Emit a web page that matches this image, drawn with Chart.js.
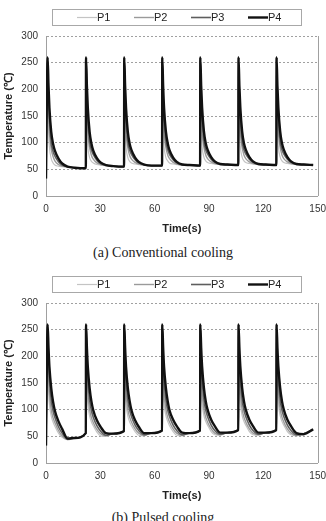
<!DOCTYPE html>
<html>
<head>
<meta charset="utf-8">
<script src="https://cdn.jsdelivr.net/npm/chart.js@4.4.1/dist/chart.umd.min.js"></script>
<style>
  html, body { margin: 0; padding: 0; background: #fff; }
  body { width: 326px; height: 521px; position: relative; overflow: hidden; }
  canvas { position: absolute; left: 0; }
  .caption {
    position: absolute; left: 0; width: 326px; text-align: center;
    font: 14px "Liberation Serif", "Times New Roman", serif; color: #222;
    line-height: 18px;
  }
</style>
</head>
<body>
<canvas id="chartA" width="326" height="240" style="top:0"></canvas>
<div class="caption" style="top:244px">(a) Conventional cooling</div>
<canvas id="chartB" width="326" height="240" style="top:267px"></canvas>
<div class="caption" style="top:509px">(b) Pulsed cooling</div>
<script>
// shared time axis (s): start, then 11 samples per cycle
const timeS = [0,
  0.9, 1.4, 1.9, 2.9, 3.9, 4.9, 6.9, 8.9, 11.9, 15.9, 22.0,
  22.1, 22.6, 23.1, 24.1, 25.1, 26.1, 28.1, 30.1, 33.1, 37.1, 43.1,
  43.2, 43.7, 44.2, 45.2, 46.2, 47.2, 49.2, 51.2, 54.2, 58.2, 64.1,
  64.2, 64.7, 65.2, 66.2, 67.2, 68.2, 70.2, 72.2, 75.2, 79.2, 85.1,
  85.2, 85.7, 86.2, 87.2, 88.2, 89.2, 91.2, 93.2, 96.2, 100.2, 106.2,
  106.3, 106.8, 107.3, 108.3, 109.3, 110.3, 112.3, 114.3, 117.3, 121.3, 127.2,
  127.3, 127.8, 128.3, 129.3, 130.3, 131.3, 133.3, 135.3, 138.3, 142.3, 147.5];

// (a) conventional cooling
const convP1 = [33,
  260, 125, 92, 70, 62, 58, 56, 55, 54, 53, 52,
  260, 125, 92, 72, 65, 62, 59, 58, 57, 56, 55,
  260, 125, 92, 72, 65, 62, 60, 59, 58, 57, 57,
  260, 125, 93, 72, 66, 62, 60, 59, 58, 58, 57,
  260, 126, 93, 73, 66, 63, 61, 60, 59, 58, 58,
  260, 126, 93, 73, 66, 63, 61, 60, 59, 58, 58,
  260, 126, 93, 73, 66, 63, 61, 60, 59, 58, 58];
const convP2 = [33,
  260, 160, 118, 88, 74, 66, 59, 56, 55, 53, 52,
  260, 160, 118, 90, 76, 69, 62, 59, 57, 56, 55,
  260, 160, 118, 90, 76, 69, 63, 60, 58, 57, 57,
  260, 160, 119, 91, 77, 70, 63, 60, 58, 58, 57,
  260, 160, 119, 91, 77, 70, 64, 61, 59, 58, 58,
  260, 160, 119, 91, 77, 70, 64, 61, 59, 58, 58,
  260, 160, 119, 91, 77, 70, 64, 61, 59, 58, 58];
const convP3 = [33,
  260, 185, 145, 100, 84, 75, 64, 58, 55, 53, 52,
  260, 185, 145, 102, 86, 78, 67, 61, 58, 56, 55,
  260, 185, 145, 102, 86, 78, 68, 62, 59, 57, 57,
  260, 185, 146, 103, 87, 78, 68, 62, 59, 58, 57,
  260, 185, 146, 103, 87, 79, 69, 63, 60, 59, 58,
  260, 185, 146, 103, 87, 79, 69, 63, 60, 59, 58,
  260, 185, 146, 103, 87, 79, 69, 63, 60, 59, 58];
const convP4 = [33,
  260, 205, 165, 120, 98, 85, 70, 61, 55, 53, 52,
  260, 205, 165, 120, 98, 85, 71, 63, 58, 56, 55,
  260, 205, 165, 120, 98, 86, 72, 64, 59, 57, 57,
  260, 205, 165, 121, 99, 86, 72, 64, 59, 58, 57,
  260, 205, 166, 121, 99, 87, 73, 65, 60, 59, 58,
  260, 205, 166, 121, 99, 87, 73, 65, 60, 59, 58,
  260, 205, 166, 121, 99, 87, 73, 65, 60, 59, 58];

// (b) pulsed cooling
const pulsP1 = [33,
  260, 140, 110, 88, 77, 69, 56, 48, 44, 47, 56,
  260, 140, 110, 88, 77, 70, 58, 51, 50, 55, 60,
  260, 140, 110, 88, 77, 70, 59, 52, 51, 56, 61,
  260, 140, 110, 89, 78, 70, 59, 52, 51, 56, 61,
  260, 140, 111, 89, 78, 71, 59, 53, 52, 57, 62,
  260, 140, 111, 89, 78, 71, 59, 53, 52, 57, 62,
  260, 140, 111, 89, 78, 71, 59, 53, 51, 55, 63];
const pulsP2 = [33,
  260, 165, 130, 100, 85, 76, 61, 51, 44, 47, 56,
  260, 165, 130, 100, 85, 76, 63, 55, 51, 55, 60,
  260, 165, 130, 100, 86, 77, 64, 56, 52, 56, 61,
  260, 165, 130, 101, 86, 77, 64, 56, 52, 56, 61,
  260, 165, 131, 101, 86, 77, 64, 56, 53, 57, 62,
  260, 165, 131, 101, 86, 77, 64, 56, 53, 57, 62,
  260, 165, 131, 101, 86, 77, 64, 56, 52, 55, 63];
const pulsP3 = [33,
  260, 190, 155, 118, 98, 86, 68, 56, 45, 47, 56,
  260, 190, 155, 118, 98, 86, 70, 60, 52, 55, 60,
  260, 190, 155, 118, 99, 87, 71, 61, 53, 56, 61,
  260, 190, 155, 119, 99, 87, 71, 61, 53, 56, 61,
  260, 190, 156, 119, 99, 87, 71, 61, 54, 57, 62,
  260, 190, 156, 119, 99, 87, 71, 61, 54, 57, 62,
  260, 190, 156, 119, 99, 87, 71, 61, 53, 55, 63];
const pulsP4 = [33,
  260, 215, 180, 140, 115, 98, 78, 64, 46, 47, 56,
  260, 215, 180, 140, 115, 99, 80, 68, 56, 55, 60,
  260, 215, 180, 140, 116, 99, 80, 68, 56, 56, 61,
  260, 215, 180, 141, 116, 99, 81, 69, 57, 56, 61,
  260, 215, 181, 141, 116, 100, 81, 69, 57, 57, 62,
  260, 215, 181, 141, 116, 100, 81, 69, 57, 57, 62,
  260, 215, 181, 141, 116, 100, 81, 69, 56, 54, 63];

const seriesNames = ['P1', 'P2', 'P3', 'P4'];
const seriesColors = ['#c4c4c4', '#9a9a9a', '#5e5e5e', '#111111'];
const seriesWidths = [1.2, 1.4, 1.6, 2.4];
const yTicks = [0, 50, 100, 150, 200, 250, 300];
const xTicks = [0, 30, 60, 90, 120, 150];

const FONT = '"Liberation Sans", Arial, sans-serif';

// draws the boxed legend on top and the right border of the plot
const legendBox = {
  id: 'legendBox',
  afterDraw(chart) {
    const ctx = chart.ctx;
    ctx.save();
    ctx.strokeStyle = '#a8a8a8';
    ctx.lineWidth = 1;
    ctx.strokeRect(52.5, 9.5, 249, 16);
    ctx.font = '11px ' + FONT;
    ctx.textBaseline = 'middle';
    chart.data.datasets.forEach((ds, i) => {
      const x = 77 + i * 57;
      ctx.strokeStyle = ds.borderColor;
      ctx.lineWidth = ds.borderWidth;
      ctx.beginPath();
      ctx.moveTo(x, 17.5);
      ctx.lineTo(x + 20, 17.5);
      ctx.stroke();
      ctx.fillStyle = '#222';
      ctx.fillText(ds.label, x + 20, 18);
    });
    const a = chart.chartArea;
    ctx.strokeStyle = '#a0a0a0';
    ctx.lineWidth = 1;
    ctx.beginPath();
    ctx.moveTo(Math.round(a.right) + 0.5, a.top);
    ctx.lineTo(Math.round(a.right) + 0.5, a.bottom);
    ctx.stroke();
    ctx.restore();
  }
};

function makeChart(id, values) {
  const datasets = values.map((vals, i) => ({
    label: seriesNames[i],
    data: timeS.map((t, j) => ({ x: t, y: vals[j] })),
    borderColor: seriesColors[i],
    borderWidth: seriesWidths[i],
    pointRadius: 0,
    fill: false,
    cubicInterpolationMode: 'monotone',
    order: 3 - i
  }));

  new Chart(document.getElementById(id), {
    type: 'line',
    data: { datasets },
    plugins: [legendBox],
    options: {
      responsive: false,
      animation: false,
      layout: { padding: { top: 36, right: 1, left: 0, bottom: 0 } },
      plugins: { legend: { display: false }, tooltip: { enabled: false } },
      scales: {
        x: {
          type: 'linear',
          min: 0,
          max: 150,
          afterFit: s => { s.height = 44; },
          afterBuildTicks: s => { s.ticks = xTicks.map(v => ({ value: v })); },
          ticks: { color: '#333', font: { family: FONT, size: 10 }, padding: 0, maxRotation: 0 },
          grid: { drawOnChartArea: false, drawTicks: true, tickLength: 7, tickColor: 'rgba(0,0,0,0)' },
          border: { display: true, color: '#a0a0a0', width: 1 },
          title: {
            display: true, text: 'Time(s)', color: '#222',
            font: { family: FONT, size: 11, weight: 'bold' },
            padding: { top: 4, bottom: 4 }
          }
        },
        y: {
          min: 0,
          max: 300,
          afterFit: s => { s.width = 46; },
          afterBuildTicks: s => { s.ticks = yTicks.map(v => ({ value: v })); },
          ticks: { color: '#333', font: { family: FONT, size: 10 }, padding: 8 },
          grid: { color: '#a0a0a0', lineWidth: 1, drawTicks: false },
          border: { display: true, color: '#a0a0a0', width: 1, dash: [2, 2] },
          title: {
            display: true, text: 'Temperature (℃)', color: '#222',
            font: { family: FONT, size: 11, weight: 'bold' },
            padding: { top: 2, bottom: 0 }
          }
        }
      }
    }
  });
}

makeChart('chartA', [convP1, convP2, convP3, convP4]);
makeChart('chartB', [pulsP1, pulsP2, pulsP3, pulsP4]);
</script>
</body>
</html>
